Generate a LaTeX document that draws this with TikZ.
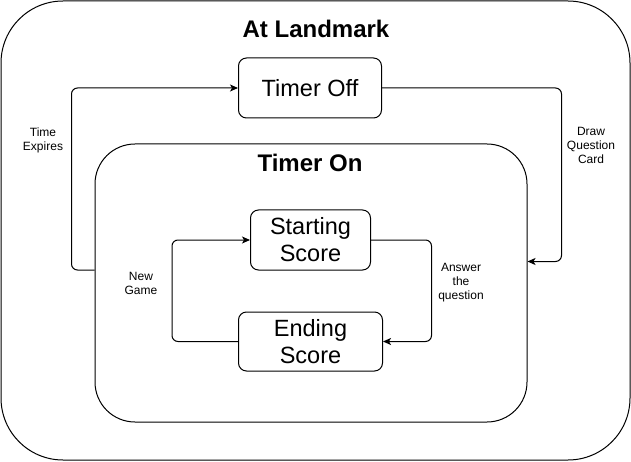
\documentclass[tikz,border=0pt]{standalone}
\usepackage{fontspec}
\setmainfont{Liberation Sans}
\usetikzlibrary{positioning, arrows.meta}
\tikzset{Container/.style={%
    shape=rectangle,%
    draw=black,%
    line width=1pt,%
    rounded corners=40pt,%
    inner sep=0pt,%
}}
\tikzset{StateBox/.style={%
    shape=rectangle,%
    draw=black,%
    line width=1pt,%
    rounded corners=8pt,%
    inner sep=0pt,%
    align=center,%
    font=\fontsize{23.5}{27}\selectfont,%
}}
\tikzset{Title/.style={%
    inner sep=0pt,%
    font=\fontsize{24}{28}\selectfont\bfseries,%
}}
\tikzset{Transition/.style={%
    -{Stealth[length=8pt, width=7pt, inset=2pt]},%
    line width=1pt,%
    rounded corners=6pt,%
}}
\tikzset{TransLabel/.style={%
    inner sep=0pt,%
    align=center,%
    font=\fontsize{12}{14}\selectfont,%
}}

\begin{document}
\begin{tikzpicture}[x=1pt, y=-1pt]
    \useasboundingbox (0,0) rectangle (631,462);

    \node[Container, rounded corners=62pt, minimum width=629pt, minimum height=459pt] (landmark) at (315.5,230.5) {};
    \node[Title] (landmarkTitle) at (316,29) {At Landmark};
    \node[Container, minimum width=432pt, minimum height=278pt] (timerOn) at (311,283) {};
    \node[Title] (timerOnTitle) at (310,163) {Timer On};

    \node[StateBox, minimum width=143pt, minimum height=60pt] (timerOff) at (310,88) {Timer Off};
    \node[StateBox, minimum width=120pt, minimum height=60pt] (startScore) at (310.5,240) {Starting\\Score};
    \node[StateBox, minimum width=144pt, minimum height=59pt, below=41pt of startScore] (endScore) {Ending\\Score};

    \node[TransLabel] (expiresLabel) at (43,140) {Time\\Expires};
    \node[TransLabel] (drawLabel) at (591,145) {Draw\\Question\\Card};
    \node[TransLabel] (newGameLabel) at (141,283) {New\\Game};
    \node[TransLabel] (answerLabel) at (461,283) {Answer\\the\\question};

    \draw[Transition] ([yshift=13pt]timerOn.west) -- ++(-23,0) |- (timerOff.west);
    \draw[Transition] (timerOff.east) -- ++(179.5,0) |- ([yshift=21.5pt]timerOn.east);
    \draw[Transition] (startScore.east) -- ++(60.5,0) |- (endScore.east);
    \draw[Transition] (endScore.west) -- ++(-66,0) |- (startScore.west);
\end{tikzpicture}
\end{document}
